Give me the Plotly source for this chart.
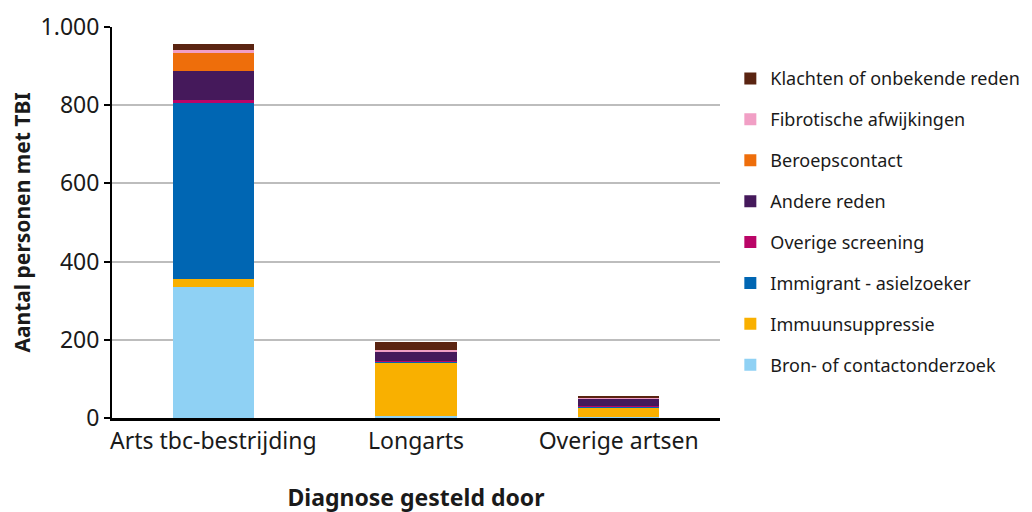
import plotly.graph_objects as go

categories = ["Arts tbc-bestrijding", "Longarts", "Overige artsen"]

# stack order bottom -> top
series_names = [
    "Bron- of contactonderzoek",
    "Immuunsuppressie",
    "Immigrant - asielzoeker",
    "Overige screening",
    "Andere reden",
    "Beroepscontact",
    "Fibrotische afwijkingen",
    "Klachten of onbekende reden",
]
bron = [335, 4, 2]
immuun = [20, 138, 26]
immigrant = [453, 3, 1]
screening = [5, 1, 1]
andere = [74, 24, 20]
beroep = [49, 0, 1]
fibrot = [5, 3, 1]
klachten = [15, 21, 5]

series_values = [bron, immuun, immigrant, screening, andere, beroep, fibrot, klachten]
series_colors = ["#8FD1F4", "#F9B000", "#0066B3", "#BA0567",
                 "#45195B", "#EE6E0B", "#F19FC5", "#5A2411"]

font_family = "Noto Sans"

fig = go.Figure()
n = len(series_names)
for i, (name, vals, col) in enumerate(zip(series_names, series_values, series_colors)):
    fig.add_trace(go.Bar(
        x=categories, y=vals, name=name, legendgroup=name,
        legendrank=n - i,
        marker=dict(color=col, line=dict(width=0)),
    ))

# the page body adds an 8px offset, margins compensate for it
fig.update_layout(
    barmode="stack",
    bargap=0.6,
    width=1032, height=512,
    margin=dict(l=104, r=320, t=19, b=102, autoexpand=False),
    plot_bgcolor="white",
    paper_bgcolor="white",
    separators=",.",
    font=dict(family=font_family, color="#1a1a1a"),
    legend=dict(
        traceorder="grouped",
        tracegroupgap=14.5,
        x=1.017, xanchor="left",
        y=0.915, yanchor="top",
        font=dict(size=18, family=font_family),
        itemwidth=30,
    ),
)

fig.update_yaxes(
    range=[0, 1000],
    tickvals=[0, 200, 400, 600, 800, 1000],
    tickformat=",d",
    showgrid=True, gridcolor="#BDBDBD", gridwidth=2,
    zeroline=False,
    showline=True, linecolor="black", linewidth=2,
    ticks="outside", ticklen=6, tickcolor="black", tickwidth=2,
    tickfont=dict(size=23),
    automargin=False,
    title=dict(text="<b>Aantal personen met TBI</b>", font=dict(size=21), standoff=10),
)
fig.update_xaxes(
    showline=True, linecolor="black", linewidth=3,
    ticks="", tickfont=dict(size=23),
    automargin=False,
    title=dict(text="<b>Diagnose gesteld door</b>", font=dict(size=23), standoff=36),
)

fig.write_html("out.html")
